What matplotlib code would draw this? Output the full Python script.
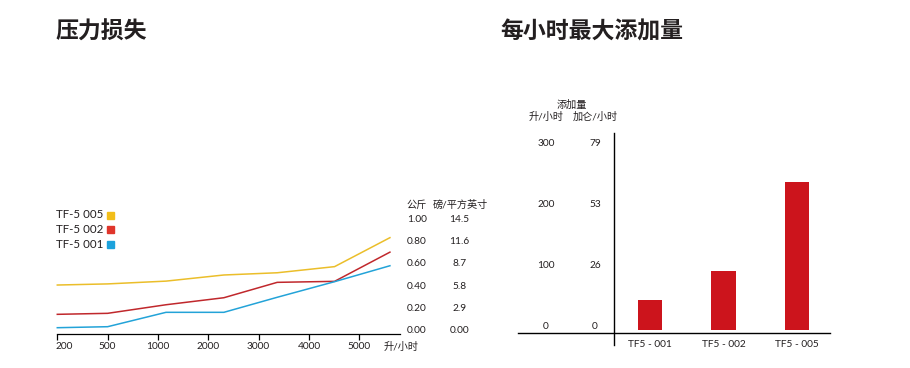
import matplotlib
matplotlib.use("Agg")
import matplotlib.pyplot as plt
import matplotlib.transforms as mtransforms
import numpy as np

plt.rcParams['font.family'] = ['Lato', 'Noto Sans CJK SC', 'DejaVu Sans']

# ---------------- data ----------------
title_left = "压力损失"
title_right = "每小时最大添加量"

flow_labels = ['200', '500', '1000', '2000', '3000', '4000', '5000']
flow_unit = "升/小时"
# x position of each measured point, in units of the flow-tick index
sample_pos = [0.0, 1.0, 2.16, 3.31, 4.37, 5.51, 6.61]
series_names = ['TF-5 005', 'TF-5 002', 'TF-5 001']
tf5_005 = [0.41, 0.42, 0.445, 0.50, 0.52, 0.575, 0.835]
tf5_002 = [0.147, 0.156, 0.233, 0.296, 0.434, 0.443, 0.705]
tf5_001 = [0.027, 0.036, 0.165, 0.165, 0.30, 0.44, 0.583]
kg_ticks = [0.0, 0.2, 0.4, 0.6, 0.8, 1.0]
kg_labels = ['0.00', '0.20', '0.40', '0.60', '0.80', '1.00']
psi_labels = ['0.00', '2.9', '5.8', '8.7', '11.6', '14.5']
kg_header = "公斤"
psi_header = "磅/平方英寸"

bar_categories = ['TF5 - 001', 'TF5 - 002', 'TF5 - 005']
bar_values = [50, 97, 243]
lph_ticks = [0, 100, 200, 300]
gph_labels = ['0', '26', '53', '79']
bar_header = "添加量"
lph_header = "升/小时"
gph_header = "加仑/小时"

# ---------------- styling ----------------
W, H = 910, 368
fig = plt.figure(figsize=(W / 100, H / 100), dpi=100)
TXT = '#231F20'
line_colors = ['#EBBE2A', '#C0282C', '#23A3D8']
square_colors = ['#F2BE1A', '#E0352B', '#1CA2DC']
BAR = '#CC141C'
SMALL = 7.3


def fx(x):
    return x / W


def fy(y):
    return 1 - y / H


def rect(x0, x1, ytop, ybot):
    return [fx(x0), fy(ybot), (x1 - x0) / W, (ybot - ytop) / H]


# ---------------- titles ----------------
fig.text(fx(55), fy(32), title_left, fontsize=16.5, fontweight='bold',
         family=['Noto Sans CJK SC'], color=TXT, va='center', ha='left')
fig.text(fx(500), fy(32), title_right, fontsize=16.5, fontweight='bold',
         family=['Noto Sans CJK SC'], color=TXT, va='center', ha='left')

# ---------------- left: pressure loss ----------------
ax1 = fig.add_axes(rect(57.3, 400, 213.7, 333.5))
ax1.set_xlim(0, 6.81)
ax1.set_ylim(-0.025, 1.05)
for s, c in zip([tf5_005, tf5_002, tf5_001], line_colors):
    ax1.plot(sample_pos, s, color=c, lw=1.1, solid_joinstyle='miter', clip_on=False)
for sp in ['top', 'left', 'right']:
    ax1.spines[sp].set_visible(False)
ax1.spines['bottom'].set_linewidth(0.9)
ax1.set_yticks([])
ax1.set_xticks(range(len(flow_labels)))
ax1.set_xticklabels(flow_labels, fontsize=SMALL, color=TXT)
ax1.tick_params(axis='x', length=4.3, width=0.9, pad=1.5, direction='out')
first = ax1.get_xticklabels()[0]
first.set_ha('left')
first.set_transform(first.get_transform() +
                    mtransforms.ScaledTranslation(-2 / 100, 0, fig.dpi_scale_trans))
ax1.patch.set_alpha(0)

fig.text(fx(401), fy(346.7), flow_unit, fontsize=SMALL, color=TXT, ha='center', va='center')

tr1 = mtransforms.blended_transform_factory(fig.transFigure, ax1.transData)
for v, a, b in zip(kg_ticks, kg_labels, psi_labels):
    ax1.text(fx(416.7), v, a, transform=tr1, fontsize=SMALL, color=TXT,
             ha='center', va='center', clip_on=False)
    ax1.text(fx(459.6), v, b, transform=tr1, fontsize=SMALL, color=TXT,
             ha='center', va='center', clip_on=False)
fig.text(fx(416.7), fy(205), kg_header, fontsize=SMALL, color=TXT, ha='center', va='center')
fig.text(fx(460), fy(205), psi_header, fontsize=SMALL, color=TXT, ha='center', va='center')

# legend
for i, (name, c) in enumerate(zip(series_names, square_colors)):
    yy = 215 + i * 14.5
    fig.text(fx(103), fy(yy), name, fontsize=8.3, color=TXT, ha='right', va='center')
    fig.patches.append(plt.Rectangle((fx(106.7), fy(yy + 3.5)), 7 / W, 7 / H,
                                     transform=fig.transFigure, color=c, figure=fig))

# ---------------- right: max addition per hour ----------------
ax2 = fig.add_axes(rect(518, 830, 132.7, 333.3))
ax2.set_xlim(-1.796, 2.449)
ax2.set_ylim(-5.4, 325)
ax2.bar(range(len(bar_categories)), bar_values, width=0.327, color=BAR)
for sp in ['top', 'left', 'right']:
    ax2.spines[sp].set_visible(False)
ax2.spines['bottom'].set_linewidth(1.0)
ax2.axvline(-0.486, ymin=-0.058, ymax=1, color='black', lw=1.0, clip_on=False)
ax2.set_yticks([])
ax2.set_xticks(range(len(bar_categories)))
ax2.set_xticklabels(bar_categories, fontsize=SMALL, color=TXT)
ax2.tick_params(axis='x', length=0, pad=4.5)
ax2.patch.set_alpha(0)

off = mtransforms.ScaledTranslation(0, 4 / 100, fig.dpi_scale_trans)
tr2 = mtransforms.blended_transform_factory(fig.transFigure, ax2.transData) + off
for v, g in zip(lph_ticks, gph_labels):
    ax2.text(fx(546), v, str(v), transform=tr2, fontsize=SMALL, color=TXT,
             ha='center', va='center', clip_on=False)
    ax2.text(fx(595), v, g, transform=tr2, fontsize=SMALL, color=TXT,
             ha='center', va='center', clip_on=False)
fig.text(fx(572), fy(105), bar_header, fontsize=SMALL, color=TXT, ha='center', va='center')
fig.text(fx(546), fy(116.7), lph_header, fontsize=SMALL, color=TXT, ha='center', va='center')
fig.text(fx(595.5), fy(116.7), gph_header, fontsize=SMALL, color=TXT, ha='center', va='center')

fig.savefig('out.png', dpi=100)
